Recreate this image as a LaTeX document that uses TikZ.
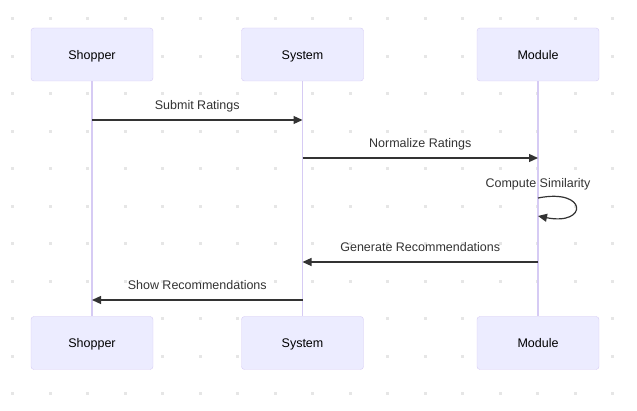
\documentclass[tikz,border=0pt]{standalone}
\usepackage{fontspec}
\setmainfont{Liberation Sans}
\usetikzlibrary{arrows.meta}
\definecolor{actfill}{HTML}{ECECFF}
\definecolor{actline}{HTML}{D6CBF4}
\definecolor{txt}{HTML}{333333}
\definecolor{dotc}{HTML}{E6E6E6}
\tikzset{
  actor/.style={draw=actline, fill=actfill, rounded corners=3pt, minimum width=122pt,
    minimum height=53pt, text=black, font=\fontsize{12.5}{15}\selectfont,
    text height=10pt, text depth=0.5pt},
  life/.style={draw=actline, line width=1.2pt},
  msg/.style={draw=txt, line width=1.2pt, -{Triangle[length=9pt,width=8pt]}},
  lbl/.style={text=txt, font=\fontsize{12.5}{15}\selectfont, inner sep=0pt}
}

\begin{document}
\begin{tikzpicture}[x=1pt,y=-1pt]
\useasboundingbox (0,0) rectangle (637,411);
% dot grid
\foreach \i in {0,...,16}
  \foreach \j in {0,...,10}
    \fill[dotc] (11+37.5*\i, 17.25+37.5*\j) rectangle ++(3,3);

% actors
\node[actor] (shopT) at (92,54.5) {Shopper};
\node[actor] (sysT) at (302.5,54.5) {System};
\node[actor] (modT) at (538,54.5) {Module};
\node[actor] (shopB) at (92,343) {Shopper};
\node[actor] (sysB) at (302.5,343) {System};
\node[actor] (modB) at (538,343) {Module};

\draw[life] (shopT) -- (shopB);
\draw[life] (sysT) -- (sysB);
\draw[life] (modT) -- (modB);

% messages
\coordinate (m1a) at (92,120);
\coordinate (m1b) at (302.5,120);
\coordinate (m2a) at (302.5,158);
\coordinate (m2b) at (538,158);
\coordinate (c1) at (538,198);
\coordinate (c2) at (538,216);
\coordinate (m4a) at (538,262);
\coordinate (m4b) at (302.5,262);
\coordinate (m5a) at (302.5,300);
\coordinate (m5b) at (92,300);

\draw[msg] (m1a) -- node[lbl, anchor=base, yshift=10pt] (l1) {Submit Ratings} (m1b);
\draw[msg] (m2a) -- node[lbl, anchor=base, yshift=10pt] (l2) {Normalize Ratings} (m2b);
\node[lbl, anchor=base] (l3) at (538,188) {Compute Similarity};
\draw[msg] (c1) .. controls (588,188) and (588,226) .. (c2);
\draw[msg] (m4a) -- node[lbl, anchor=base, yshift=10pt] (l4) {Generate Recommendations} (m4b);
\draw[msg] (m5a) -- node[lbl, anchor=base, yshift=10pt] (l5) {Show Recommendations} (m5b);
\end{tikzpicture}
\end{document}
